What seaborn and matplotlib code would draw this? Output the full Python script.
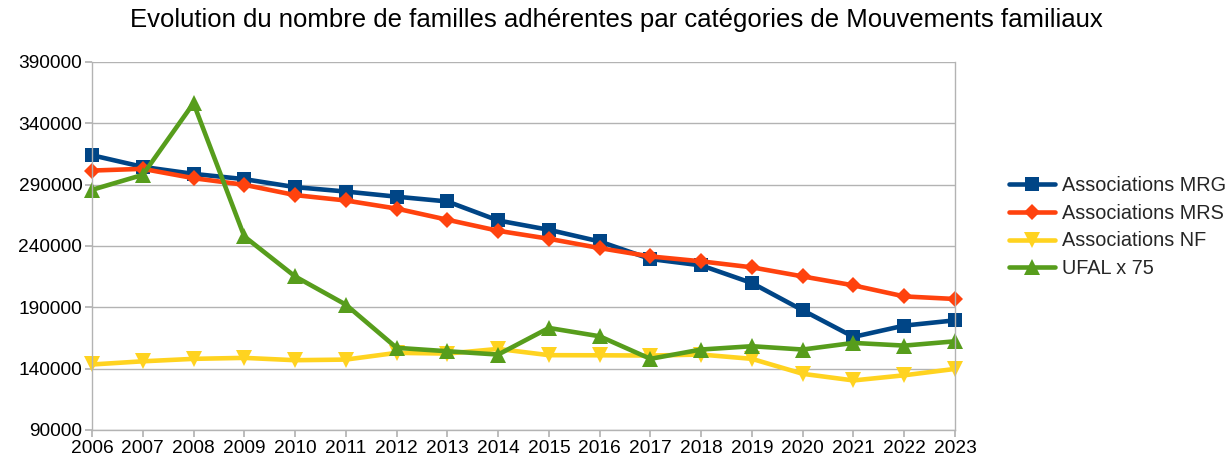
import matplotlib
matplotlib.use("Agg")
import matplotlib.pyplot as plt
import seaborn as sns
import pandas as pd

years = list(range(2006, 2024))
mrg = [314000, 304500, 298800, 294500, 288000, 284400, 280200, 276300, 260800, 253200,
       243700, 229400, 224200, 209800, 187600, 165900, 175100, 179400]
mrs = [301500, 302900, 295300, 289900, 281500, 277100, 270500, 261400, 252400, 245900,
       238300, 231500, 227500, 222600, 215200, 207900, 198900, 196800]
nf = [143400, 146000, 148000, 148800, 146900, 147400, 152900, 152300, 156100, 151000,
      150900, 150700, 151500, 148000, 135800, 130400, 134600, 139800]
ufal = [285800, 298000, 356400, 247800, 215200, 192200, 157000, 154200, 151500, 173200,
        166400, 148000, 155600, 158300, 155600, 161000, 158800, 162300]
series_names = ["Associations MRG", "Associations MRS", "Associations NF", "UFAL x 75"]
yticks = [90000, 140000, 190000, 240000, 290000, 340000, 390000]
title = "Evolution du nombre de familles adhérentes par catégories de Mouvements familiaux"

df = pd.DataFrame({"Année": years * 4,
                   "Valeur": mrg + mrs + nf + ufal,
                   "Série": sum([[n] * len(years) for n in series_names], [])})

sns.set_theme(style="white")
plt.rcParams['font.family'] = ['Liberation Sans', 'DejaVu Sans']

colors = {"Associations MRG": "#004586", "Associations MRS": "#ff420e",
          "Associations NF": "#ffd320", "UFAL x 75": "#579d1c"}
markers = {"Associations MRG": "s", "Associations MRS": "D",
           "Associations NF": "v", "UFAL x 75": "^"}
msizes = {"Associations MRG": 10.5, "Associations MRS": 8.5,
          "Associations NF": 11.5, "UFAL x 75": 11.5}

fig = plt.figure(figsize=(12.32, 4.76), dpi=100)
ax = fig.add_axes([92/1232, 1-430/476, (955-92)/1232, (430-62)/476])

for name in series_names:
    sub = df[df["Série"] == name]
    sns.lineplot(data=sub, x="Année", y="Valeur", ax=ax, color=colors[name],
                 marker=markers[name], markersize=msizes[name], linewidth=3.3,
                 markeredgewidth=0, label=name, legend=False, clip_on=False)

ax.set_xlim(2006, 2023)
ax.set_ylim(90000, 390000)
ax.set_xticks(years)
ax.set_xticklabels([str(y) for y in years], fontsize=13.8)
ax.set_yticks(yticks)
ax.set_yticklabels([str(v) for v in yticks], fontsize=13.8)
ax.set_xlabel("")
ax.set_ylabel("")
ax.grid(axis="y", color="#b3b3b3", linewidth=1)
ax.set_axisbelow(True)
ax.spines["top"].set_visible(False)
for s in ["left", "right", "bottom"]:
    ax.spines[s].set_color("#b3b3b3")
    ax.spines[s].set_linewidth(1)
ax.tick_params(axis="both", which="both", length=5, color="#b3b3b3",
               direction="out", left=True, bottom=True, pad=2, labelcolor="black")

handles, labels = ax.get_legend_handles_labels()
fig.legend(handles, labels, loc="center left", bbox_to_anchor=(1009/1232, 1-227/476),
           frameon=False, fontsize=14.3, handlelength=2.3, labelspacing=0.45,
           handletextpad=0.35, borderaxespad=0, borderpad=0)

fig.text(0.5, 1-20/476, title, ha="center", va="center", fontsize=18.5, color="black")

fig.savefig("out.png", dpi=100)
